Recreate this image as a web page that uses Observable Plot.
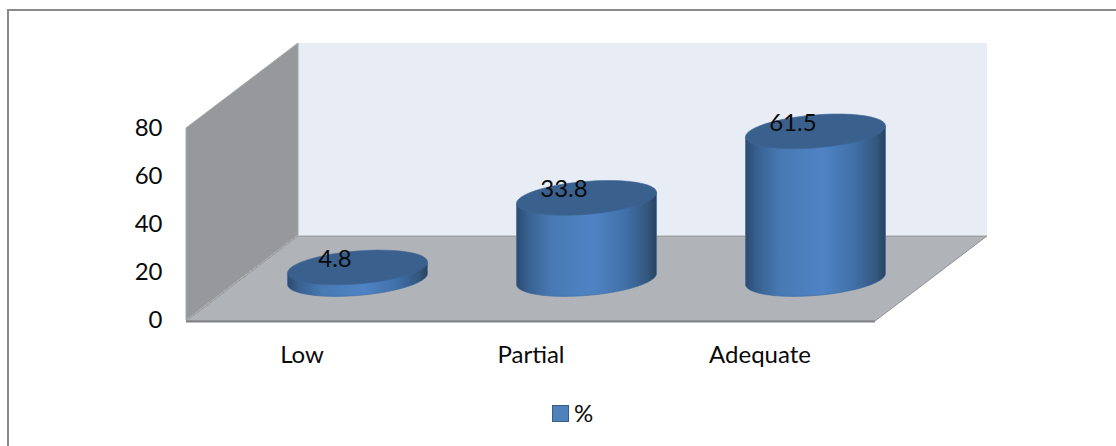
<!DOCTYPE html>
<html>
<head>
<meta charset="utf-8">
<script src="https://cdn.jsdelivr.net/npm/d3@7"></script>
<script src="https://cdn.jsdelivr.net/npm/@observablehq/plot@0.6"></script>
<style>
  html, body { margin: 0; padding: 0; background: #fff; }
  #chart { position: relative; width: 1116px; height: 446px; overflow: hidden; font-family: Lato, sans-serif; color: #0a0a0a; }
  #border { position: absolute; left: 7px; top: 9px; right: -4px; bottom: -4px; border: 2px solid #8a8a8a; }
  #chart svg { position: absolute; left: 0; top: 0; background: none; }
  #legend { position: absolute; left: 552px; top: 400px; display: flex; align-items: center; gap: 5px; font-size: 24px; line-height: 26px; }
  #legend i { display: block; width: 15px; height: 15px; background: #4f81bd; border: 1px solid #385d8a; }
</style>
</head>
<body>
<div id="chart"><div id="border"></div><div id="legend"><i></i><span>%</span></div></div>
<script>
const categories = ["Low", "Partial", "Adequate"];
const percentages = [4.8, 33.8, 61.5];
const yTicks = [0, 20, 40, 60, 80];
const seriesName = "%";

const rows = categories.map((category, i) => ({category, value: percentages[i]}));

// Oblique projection of the chart box: how far the back wall sits from the front plane
const depth = {x: 112, y: -85};
const radius = {x: 70, tilt: 5.5, y: 16.5};
const seat = {x: depth.x / 2, y: -41};

function svgEl(name, attrs, parent) {
  const el = document.createElementNS("http://www.w3.org/2000/svg", name);
  for (const k in attrs) el.setAttribute(k, attrs[k]);
  if (parent) parent.appendChild(el);
  return el;
}

// Back wall, side wall and floor, placed from the x and y scale extents
function box(index, scales, values, dims) {
  const g = svgEl("g", {});
  const left = dims.marginLeft, right = dims.width - dims.marginRight;
  const y0 = scales.y(0), yMax = scales.y(80);
  const shape = (pts, attrs) => svgEl("polygon", {points: pts.map(p => p.join(",")).join(" "), ...attrs}, g);
  shape([[left + depth.x, yMax + depth.y], [right + depth.x, yMax + depth.y], [right + depth.x, y0 + depth.y], [left + depth.x, y0 + depth.y]],
    {fill: "#e8ecf5"});
  shape([[left, yMax], [left + depth.x, yMax + depth.y], [left + depth.x, y0 + depth.y], [left, y0]],
    {fill: "#97989b", stroke: "#a6a7aa", "stroke-width": 1});
  shape([[left, y0 + 1], [left + depth.x, y0 + depth.y + 1], [right + depth.x, y0 + depth.y + 1], [right, y0 + 1]],
    {fill: "#b0b3b7", stroke: "#909296", "stroke-width": 1});
  svgEl("line", {x1: left, x2: right, y1: y0 + 1.5, y2: y0 + 1.5, stroke: "#808285", "stroke-width": 2}, g);
  return g;
}

// Turns each bar into a cylinder: the shaded side wall plus the elliptical cap
function cylinders(index, scales, values, dims, context, next) {
  const g = svgEl("g", {});
  const defs = svgEl("defs", {}, g);
  const grad = svgEl("linearGradient", {id: "cyl-side", x1: 0, x2: 1, y1: 0, y2: 0}, defs);
  [[0, "#2b4a70"], [0.08, "#38608f"], [0.25, "#477ab3"], [0.55, "#4f83c4"], [0.78, "#4070a8"], [0.93, "#34587f"], [1, "#28435f"]]
    .forEach(([o, c]) => svgEl("stop", {offset: o, "stop-color": c}, grad));
  const half = scales.x.bandwidth() / 2;
  const ring = (cx, cy, a, b) => d3.range(0, 49).map(k => {
    const t = a + (b - a) * k / 48;
    return [cx + radius.x * Math.cos(t), cy - radius.tilt * Math.cos(t) + radius.y * Math.sin(t)];
  });
  for (const i of index) {
    const cx = scales.x(rows[i].category) + half + seat.x;
    const bottom = scales.y(0) + seat.y;
    const top = scales.y(rows[i].value) + seat.y;
    const side = [...ring(cx, top, Math.PI, Math.PI), ...ring(cx, bottom, Math.PI, 0), ...ring(cx, top, 0, 0)];
    svgEl("path", {d: d3.line()(side) + "Z", fill: "url(#cyl-side)", stroke: "#3a689f", "stroke-width": 0.6}, g);
    svgEl("path", {d: d3.line()(ring(cx, top, 0, 2 * Math.PI)) + "Z", fill: "#3a608e", stroke: "#3f6796", "stroke-width": 0.6}, g);
  }
  return g;
}

const chart = Plot.plot({
  width: 1116,
  height: 446,
  marginLeft: 186,
  marginRight: 241,
  marginTop: 128,
  marginBottom: 126,
  style: {fontFamily: "Lato, sans-serif", fontSize: "24px", color: "#0a0a0a", background: "none", overflow: "visible"},
  x: {domain: categories, padding: 0},
  y: {domain: [0, 80]},
  marks: [
    box,
    Plot.barY(rows, {x: "category", y: "value", render: cylinders}),
    Plot.axisY({ticks: yTicks, tickSize: 0, tickPadding: 24, label: null, fontSize: 24}),
    Plot.axisX({tickSize: 0, tickPadding: 25, label: null, fontSize: 24}),
    Plot.text(rows, {x: "category", y: "value", text: d => String(d.value), dx: 33, dy: -50, fontSize: 24, fill: "#0a0a0a"})
  ]
});
document.getElementById("chart").appendChild(chart);
document.querySelector("#legend span").textContent = seriesName;
</script>
</body>
</html>
